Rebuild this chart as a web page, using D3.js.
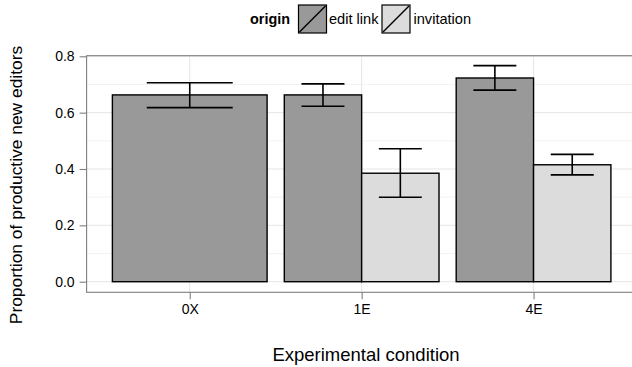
<!DOCTYPE html>
<html>
<head>
<meta charset="utf-8">
<script src="https://cdn.jsdelivr.net/npm/d3@7"></script>
<style>
  html, body { margin: 0; padding: 0; background: #fff; }
  svg { display: block; font-family: "Liberation Sans", Arial, Helvetica, sans-serif; }
</style>
</head>
<body>
<svg id="chart" width="632" height="367"></svg>
<script>
// ---- data ----
const categories = ["0X", "1E", "4E"];
const seriesNames = ["edit link", "invitation"];
const editLinkValues = [0.663, 0.663, 0.723];
const editLinkLow    = [0.618, 0.6225, 0.680];
const editLinkHigh   = [0.706, 0.702, 0.767];
const invitationValues = [null, 0.385, 0.415];
const invitationLow    = [null, 0.2995, 0.379];
const invitationHigh   = [null, 0.472, 0.452];
const yTicks = [0, 0.2, 0.4, 0.6, 0.8];
const yMinorTicks = [0.1, 0.3, 0.5, 0.7];
const fills = { "edit link": "#999999", "invitation": "#dcdcdc" };

// ---- layout ----
const panel = { left: 86.6, right: 636.7, top: 55.7, bottom: 292.3 };
const svg = d3.select("#chart");

const x = d3.scalePoint().domain(categories).range([panel.left, panel.right]).padding(0.6);
const step = x.step();
const y = d3.scaleLinear().domain([0, 0.8]).range([281.7, 56.3]);

// build records
const records = [];
categories.forEach((c, i) => {
  const present = [];
  if (editLinkValues[i] != null) present.push({ s: "edit link", v: editLinkValues[i], lo: editLinkLow[i], hi: editLinkHigh[i] });
  if (invitationValues[i] != null) present.push({ s: "invitation", v: invitationValues[i], lo: invitationLow[i], hi: invitationHigh[i] });
  const n = present.length;
  const w = 0.9 * step / n;
  present.forEach((p, j) => {
    const cx = x(c) - 0.45 * step + w * (j + 0.5);
    records.push({ cat: c, series: p.s, value: p.v, lo: p.lo, hi: p.hi, cx, w, ew: 0.5 * step / n });
  });
});

// grid
const g = svg.append("g");
g.selectAll("line.minor").data(yMinorTicks).join("line")
  .attr("x1", panel.left).attr("x2", panel.right)
  .attr("y1", d => y(d)).attr("y2", d => y(d))
  .attr("stroke", "#f3f3f3").attr("stroke-width", 1);
g.selectAll("line.major").data(yTicks).join("line")
  .attr("x1", panel.left).attr("x2", panel.right)
  .attr("y1", d => y(d)).attr("y2", d => y(d))
  .attr("stroke", "#e5e5e5").attr("stroke-width", 1);
g.selectAll("line.vmajor").data(categories).join("line")
  .attr("x1", d => x(d)).attr("x2", d => x(d))
  .attr("y1", panel.top).attr("y2", panel.bottom)
  .attr("stroke", "#e5e5e5").attr("stroke-width", 1);

// bars
svg.append("g").selectAll("rect").data(records).join("rect")
  .attr("x", d => d.cx - d.w / 2)
  .attr("width", d => d.w)
  .attr("y", d => y(d.value))
  .attr("height", d => y(0) - y(d.value))
  .attr("fill", d => fills[d.series])
  .attr("stroke", "#000").attr("stroke-width", 1.4);

// error bars
const eb = svg.append("g").attr("stroke", "#000").attr("stroke-width", 1.6);
records.forEach(d => {
  eb.append("line").attr("x1", d.cx).attr("x2", d.cx).attr("y1", y(d.lo)).attr("y2", y(d.hi));
  eb.append("line").attr("x1", d.cx - d.ew / 2).attr("x2", d.cx + d.ew / 2).attr("y1", y(d.lo)).attr("y2", y(d.lo));
  eb.append("line").attr("x1", d.cx - d.ew / 2).attr("x2", d.cx + d.ew / 2).attr("y1", y(d.hi)).attr("y2", y(d.hi));
});

// panel border
svg.append("rect")
  .attr("x", panel.left).attr("y", panel.top)
  .attr("width", panel.right - panel.left).attr("height", panel.bottom - panel.top)
  .attr("fill", "none").attr("stroke", "#7f7f7f").attr("stroke-width", 1.1);

// y axis
const yAxis = d3.axisLeft(y).tickValues(yTicks).tickFormat(d3.format(".1f")).tickSize(7).tickPadding(5);
const ya = svg.append("g").attr("transform", `translate(${panel.left},0)`).call(yAxis);
ya.select(".domain").remove();
ya.selectAll(".tick line").attr("stroke", "#7f7f7f").attr("stroke-width", 1.1);
ya.selectAll(".tick text").attr("fill", "#000").style("font-size", "14px")
  .style("font-family", "'Liberation Sans', Arial, sans-serif");

// x axis
const xAxis = d3.axisBottom(x).tickSize(7).tickPadding(5);
const xa = svg.append("g").attr("transform", `translate(0,${panel.bottom})`).call(xAxis);
xa.select(".domain").remove();
xa.selectAll(".tick line").attr("stroke", "#7f7f7f").attr("stroke-width", 1.1);
xa.selectAll(".tick text").attr("fill", "#000").style("font-size", "14px")
  .style("font-family", "'Liberation Sans', Arial, sans-serif");

// axis titles
svg.append("text")
  .attr("x", 366).attr("y", 361)
  .attr("text-anchor", "middle")
  .style("font-size", "18.5px")
  .text("Experimental condition");
svg.append("text")
  .attr("transform", "translate(22,185) rotate(-90)")
  .attr("text-anchor", "middle")
  .style("font-size", "17.4px")
  .text("Proportion of productive new editors");

// legend
const leg = svg.append("g");
leg.append("text").attr("x", 250).attr("y", 24)
  .style("font-size", "14.4px").style("font-weight", "bold").text("origin");
const keyX = [298.5, 382];
const labX = [329, 413.5];
seriesNames.forEach((s, i) => {
  leg.append("rect").attr("x", keyX[i]).attr("y", 5).attr("width", 28).attr("height", 28)
    .attr("fill", fills[s]).attr("stroke", "#000").attr("stroke-width", 1.2);
  leg.append("line").attr("x1", keyX[i] + 1).attr("y1", 32).attr("x2", keyX[i] + 27).attr("y2", 6)
    .attr("stroke", "#000").attr("stroke-width", 1.4);
  leg.append("text").attr("x", labX[i]).attr("y", 24)
    .style("font-size", "14.6px").text(s);
});
</script>
</body>
</html>
